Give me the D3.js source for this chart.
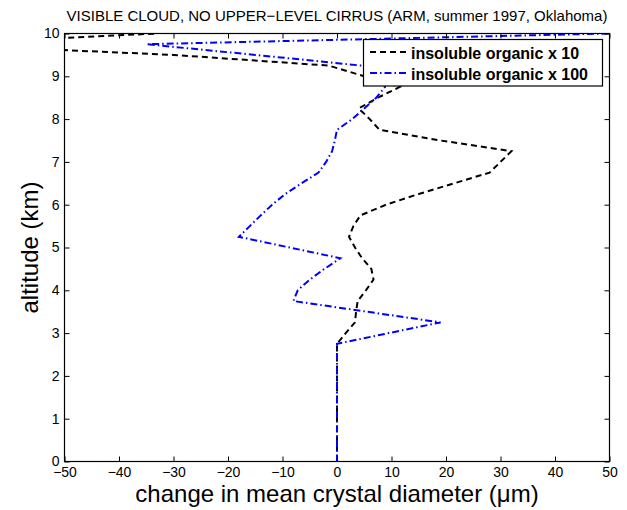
<!DOCTYPE html>
<html>
<head>
<meta charset="utf-8">
<script src="https://cdn.jsdelivr.net/npm/d3@7"></script>
<style>
body { margin: 0; background: #fff; }
text { font-family: "Liberation Sans", Arial, sans-serif; }
</style>
</head>
<body>
<svg id="chart" width="627" height="510"></svg>
<script>
// altitude levels (km)
var altitudes = [0, 0.25, 0.5, 0.75, 1, 1.25, 1.5, 1.75, 2, 2.25, 2.5, 2.75,
  3, 3.25, 3.5, 3.75, 4, 4.25, 4.5, 4.75, 5, 5.25, 5.5, 5.75, 6, 6.25, 6.5, 6.75,
  7, 7.25, 7.5, 7.75, 8, 8.25, 8.5, 8.75, 9, 9.25, 9.5, 9.75, 10];
// change in mean crystal diameter (um)
var organic10 = [0, 0, 0, 0, 0, 0, 0, 0, 0, 0, 0, 0,
  1.6, 3.3, 3.5, 3.8, 5.3, 6.7, 6.3, 4.6, 3.3, 2.2, 3, 4.3, 9, 15, 21.5, 28,
  30, 32, 19, 7.8, 6, 4, 7.5, 11.5, 5, -1.5, -30, -75, -33];
var organic100 = [0, 0, 0, 0, 0, 0, 0, 0, 0, 0, 0, 0,
  9.5, 19, 5.5, -8, -7.2, -5, -2.3, 0.6, -8.7, -18, -16, -14, -11.9, -9.5, -6.5, -3.4,
  -2, -0.9, -0.4, 0, 2.8, 5, 7.2, 8.8, 9, 4.5, -15, -35, 50];
var seriesNames = ['insoluble organic x 10', 'insoluble organic x 100'];
var xTicks = [-50, -40, -30, -20, -10, 0, 10, 20, 30, 40, 50];
var yTicks = [0, 1, 2, 3, 4, 5, 6, 7, 8, 9, 10];

var svg = d3.select('#chart');
var pLeft = 64.5, pRight = 609.5, pTop = 33.5, pBottom = 461.5;

var xScale = d3.scaleLinear().domain([-50, 50]).range([pLeft, pRight]);
var yScale = d3.scaleLinear().domain([0, 10]).range([pBottom, pTop]);

svg.append('defs').append('clipPath').attr('id', 'plotclip')
  .append('rect').attr('x', pLeft).attr('y', pTop)
  .attr('width', pRight - pLeft).attr('height', pBottom - pTop);

// lines
var styles = [
  {color: '#000', dash: '6,4'},
  {color: '#0000ff', dash: '7,3,1.5,3'}
];
var allSeries = [organic10, organic100];
var line = d3.line()
  .x(function(d) { return xScale(d[0]); })
  .y(function(d) { return yScale(d[1]); });

var lineG = svg.append('g').attr('clip-path', 'url(#plotclip)');
allSeries.forEach(function(vals, i) {
  var pts = vals.map(function(v, j) { return [v, altitudes[j]]; });
  lineG.append('path')
    .attr('d', line(pts))
    .attr('fill', 'none')
    .attr('stroke', styles[i].color)
    .attr('stroke-width', 2)
    .attr('stroke-dasharray', styles[i].dash);
});

// axes (ticks inside, matlab style)
function styleAxis(g) {
  g.select('.domain').remove();
  g.selectAll('line').attr('stroke', '#000');
  g.selectAll('text').attr('font-size', 14).attr('fill', '#000')
    .style('font-family', '"Liberation Sans", Arial, sans-serif');
}
svg.append('g').attr('transform', 'translate(0,' + pBottom + ')')
  .call(d3.axisBottom(xScale).tickValues(xTicks).tickSizeInner(-5).tickSizeOuter(0).tickPadding(6))
  .call(styleAxis);
svg.append('g').attr('transform', 'translate(0,' + pTop + ')')
  .call(d3.axisTop(xScale).tickValues(xTicks).tickSizeInner(-5).tickSizeOuter(0).tickFormat(''))
  .call(styleAxis);
svg.append('g').attr('transform', 'translate(' + pLeft + ',0)')
  .call(d3.axisLeft(yScale).tickValues(yTicks).tickSizeInner(-5).tickSizeOuter(0).tickPadding(5))
  .call(styleAxis);
svg.append('g').attr('transform', 'translate(' + pRight + ',0)')
  .call(d3.axisRight(yScale).tickValues(yTicks).tickSizeInner(-5).tickSizeOuter(0).tickFormat(''))
  .call(styleAxis);

svg.append('rect').attr('x', pLeft).attr('y', pTop)
  .attr('width', pRight - pLeft).attr('height', pBottom - pTop)
  .attr('fill', 'none').attr('stroke', '#000').attr('stroke-width', 1.2);

// legend
var legend = svg.append('g');
legend.append('rect').attr('x', 363.5).attr('y', 39.5).attr('width', 239).attr('height', 46.5)
  .attr('fill', '#fff').attr('stroke', '#000').attr('stroke-width', 1.2);
seriesNames.forEach(function(name, i) {
  var yy = 52 + i * 21;
  legend.append('line').attr('x1', 370).attr('x2', 407).attr('y1', yy).attr('y2', yy)
    .attr('stroke', styles[i].color).attr('stroke-width', 2)
    .attr('stroke-dasharray', styles[i].dash);
  legend.append('text').attr('x', 411).attr('y', yy + 6.5)
    .attr('font-size', 16).attr('font-weight', 'bold').text(name);
});

// titles
svg.append('text').attr('x', (pLeft + pRight) / 2).attr('y', 21)
  .attr('text-anchor', 'middle').attr('font-size', 15)
  .text('VISIBLE CLOUD, NO UPPER\u2212LEVEL CIRRUS (ARM, summer 1997, Oklahoma)');
svg.append('text').attr('x', (pLeft + pRight) / 2).attr('y', 502)
  .attr('text-anchor', 'middle').attr('font-size', 24)
  .text('change in mean crystal diameter (\u03bcm)');
svg.append('text').attr('transform', 'translate(38,' + (pTop + pBottom) / 2 + ') rotate(-90)')
  .attr('text-anchor', 'middle').attr('font-size', 24)
  .text('altitude (km)');
</script>
</body>
</html>
